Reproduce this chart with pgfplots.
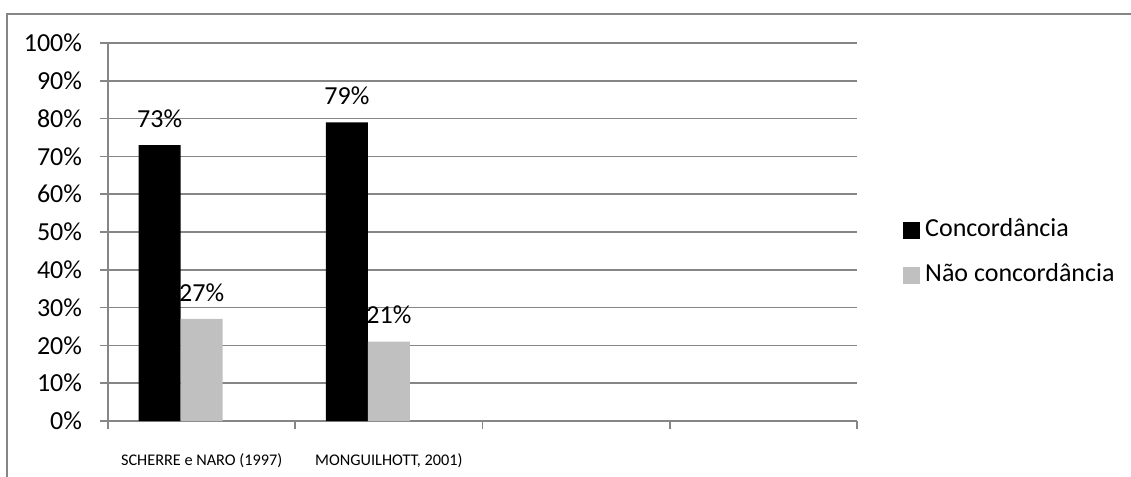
\documentclass[border=0pt]{standalone}
\usepackage{fontspec}
\setmainfont{Carlito}
\usepackage{pgfplots}
\pgfplotsset{compat=1.18}
\definecolor{framegray}{HTML}{868686}
\definecolor{lightbar}{HTML}{C0C0C0}
\newcommand{\bigfont}{\fontsize{19.5}{22}\selectfont}
\newcommand{\catfont}{\fontsize{12.2}{14}\selectfont}
\begin{document}
\begin{tikzpicture}[x=1pt,y=1pt]
\useasboundingbox (0,0) rectangle (848.25,-357.75);
% chart area border (top and left edges)
\draw[framegray, line width=1.2pt] (5.25,-357.75) -- (5.25,-10.5) -- (848.25,-10.5);
\begin{axis}[
  at={(81pt,-315.75pt)}, anchor=south west,
  scale only axis, width=561.75pt, height=283.5pt,
  xmin=-0.5, xmax=3.5, ymin=0, ymax=100,
  axis x line=bottom, axis y line=left,
  axis line style={framegray, line width=1.2pt, -},
  ytick={0,10,...,100},
  yticklabels={0\%,10\%,20\%,30\%,40\%,50\%,60\%,70\%,80\%,90\%,100\%},
  yticklabel style={font=\bigfont, anchor=east, xshift=-10pt},
  ymajorgrids, grid style={framegray, line width=1.2pt},
  tick align=outside, major tick length=6pt,
  tick style={framegray, line width=1.2pt},
  xtick={-0.5,0.5,1.5,2.5,3.5}, xticklabels={{},{},{},{},{}},
  extra x ticks={0,1},
  extra x tick labels={SCHERRE e NARO (1997),{MONGUILHOTT, 2001)}},
  extra x tick style={major tick length=0pt, grid=none,
    xticklabel style={font=\catfont, anchor=center, yshift=-29.5pt}},
  ybar, bar width=31.5pt,
  /pgf/number format/assume math mode=true,
  nodes near coords={\pgfmathprintnumber{\pgfplotspointmeta}\%},
  nodes near coords style={font=\bigfont, anchor=center, yshift=20pt},
  legend style={draw=none, fill=none, at={(axis description cs:1.056,0.444)},
    anchor=west, font=\bigfont, row sep=16.5pt,
    nodes={inner sep=0pt, text height=13pt, text depth=4pt},
    /tikz/every odd column/.style={column sep=3.75pt}},
  legend cell align=left,
]
\addplot[fill=black, draw=none, bar shift=-31.5pt,
  legend image code/.code={\fill[black] (0pt,-6.375pt) rectangle (12.75pt,6.375pt);}]
  coordinates {(0,73) (1,79)};
\addlegendentry{Concordância}
\addplot[fill=lightbar, draw=none, bar shift=0pt,
  legend image code/.code={\fill[lightbar] (0pt,-6.375pt) rectangle (12.75pt,6.375pt);}]
  coordinates {(0,27) (1,21)};
\addlegendentry{Não concordância}
\end{axis}
\end{tikzpicture}
\end{document}
